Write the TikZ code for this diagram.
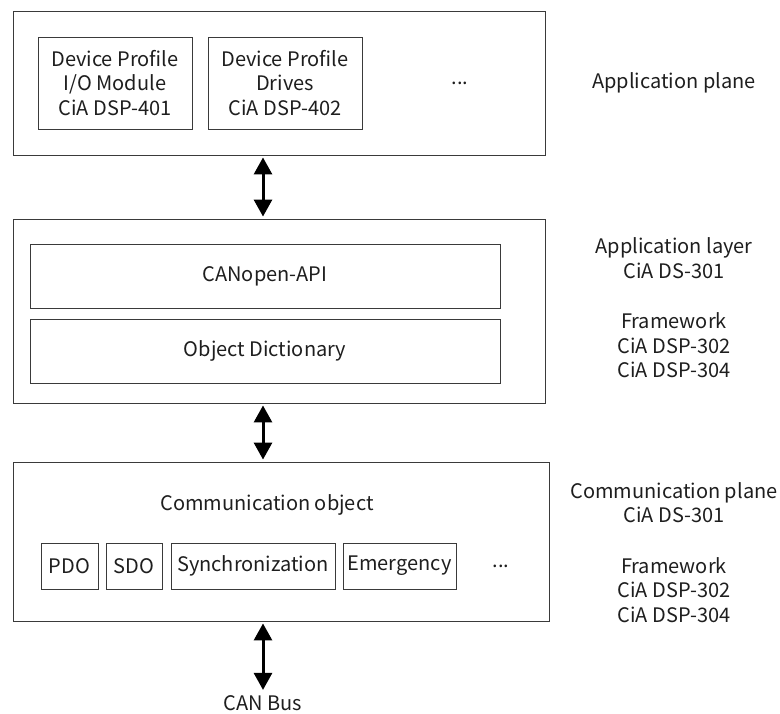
\documentclass[tikz,border=0pt]{standalone}
\usepackage{fontspec}
\setmainfont{Noto Sans CJK SC}
\usepackage{tikz}
\usetikzlibrary{arrows.meta,positioning}
\usepackage{xcolor}
\definecolor{ink}{HTML}{1E1E1E}
\definecolor{frame}{HTML}{3A3A3A}
\tikzset{
  layerbox/.style={draw=frame,line width=0.9pt,inner sep=0pt},
  itembox/.style={draw=frame,line width=0.9pt,inner sep=0pt,align=center,text=ink},
  sidelabel/.style={align=center,text=ink},
  biarrow/.style={{Triangle[length=17pt,width=18pt]}-{Triangle[length=17pt,width=18pt]},
                  line width=3pt,draw=black,shorten >=2pt,shorten <=2pt}
}

\begin{document}
\begin{tikzpicture}[x=1pt,y=-1pt,font=\fontsize{20}{24.5}\selectfont]
  \useasboundingbox (0,0) rectangle (780,713);
  % application plane
  \node[layerbox,minimum width=532pt,minimum height=144pt] (appplane) at (279,83) {};
  \node[itembox,minimum width=154pt,minimum height=92pt] (dp401) at (115,83)
    {Device Profile\\I/O Module\\CiA DSP-401};
  \node[itembox,minimum width=154pt,minimum height=92pt] (dp402) at (285,83)
    {Device Profile\\Drives\\CiA DSP-402};
  \node[text=ink] (appdots) at (460,83) {...};
  \node[sidelabel] (appplanelbl) at (674,83) {Application plane};

  % application layer
  \node[layerbox,minimum width=532pt,minimum height=184pt] (applayer) at (279,311) {};
  \node[itembox,minimum width=470pt,minimum height=64pt] (api) at (265,276) {CANopen-API};
  \node[itembox,minimum width=470pt,minimum height=64pt] (objdict) at (265,351) {Object Dictionary};
  \node[sidelabel] (applayerlbl) at (674,258) {Application layer\\CiA DS-301};
  \node[sidelabel] (applayerfw) at (674,345.5) {Framework\\CiA DSP-302\\CiA DSP-304};

  % communication plane
  \node[layerbox,minimum width=536pt,minimum height=159pt] (commplane) at (281,541.5) {};
  \node[text=ink] (commobj) at (267,505) {Communication object};
  \node[itembox,minimum width=57pt,minimum height=46pt] (pdo) at (69.5,566) {PDO};
  \node[itembox,minimum width=56pt,minimum height=46pt] (sdo) at (134,566) {SDO};
  \node[itembox,minimum width=164pt,minimum height=46pt] (sync) at (253,566) {Synchronization};
  \node[itembox,minimum width=113pt,minimum height=46pt] (emcy) at (399.5,566) {Emergency};
  \node[text=ink] (commdots) at (501,566) {...};
  \node[sidelabel] (commplanelbl) at (674,502.5) {Communication plane\\CiA DS-301};
  \node[sidelabel] (commfw) at (674,590) {Framework\\CiA DSP-302\\CiA DSP-304};

  \node[text=ink] (canbus) at (263,703) {CAN Bus};

  \draw[biarrow] (appplane.south -| canbus) -- (applayer.north -| canbus);
  \draw[biarrow] (applayer.south -| canbus) -- (commplane.north -| canbus);
  \draw[biarrow] (commplane.south -| canbus) -- (canbus.north);
\end{tikzpicture}
\end{document}
